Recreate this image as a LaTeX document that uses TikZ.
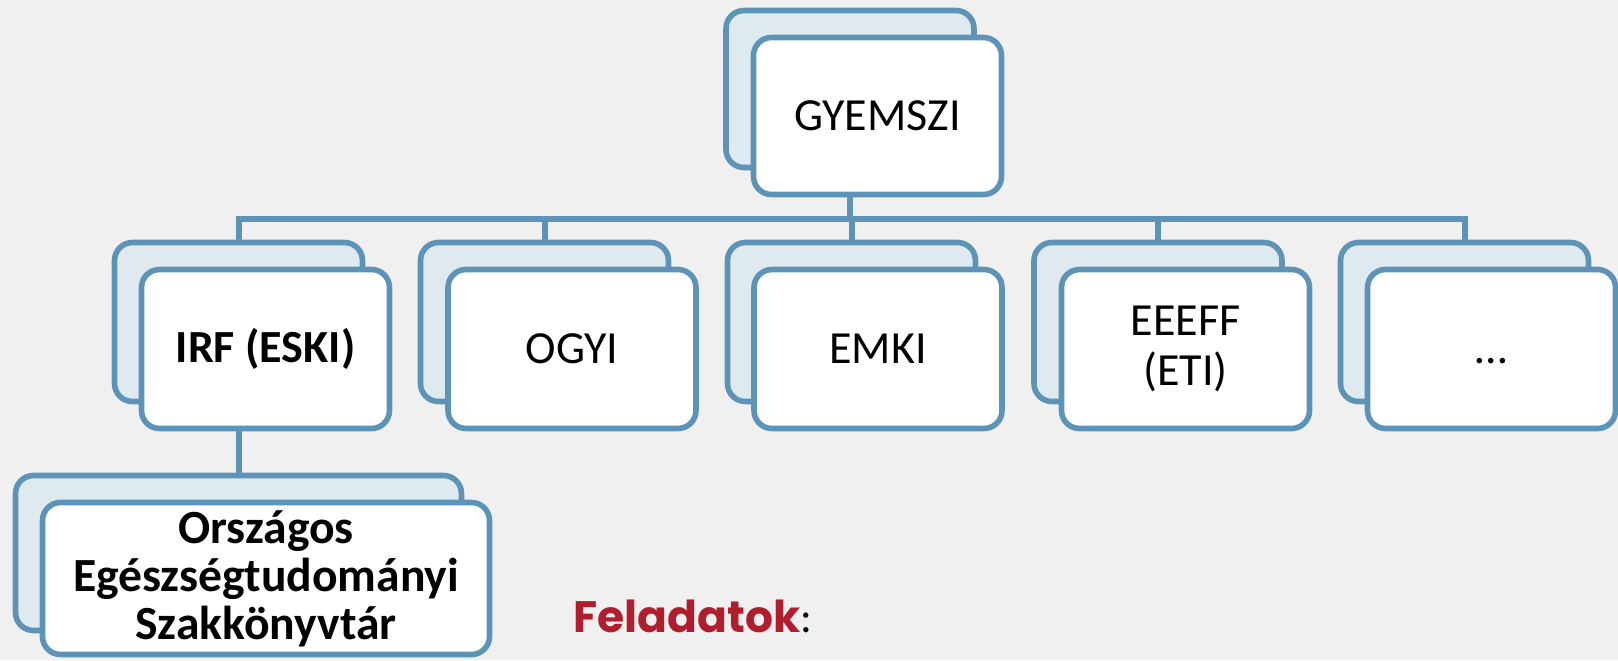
\documentclass[tikz,border=0pt]{standalone}
\usepackage{fontspec}
\setmainfont{Carlito}
\newfontfamily\featfont{Poppins}
\definecolor{bord}{HTML}{5E93B8}
\definecolor{backfill}{HTML}{DFE9F0}
\definecolor{bgc}{HTML}{F0F0F0}
\definecolor{featred}{HTML}{B01E2E}
\tikzset{
  backbox/.style={draw=bord, fill=backfill, line width=2.8pt, rounded corners=9pt,
    minimum width=124pt, minimum height=79.5pt, inner sep=0pt},
  frontbox/.style={draw=bord, fill=white, line width=2.8pt, rounded corners=9pt,
    minimum width=124pt, minimum height=79.5pt, inner sep=0pt, align=center,
    font=\fontsize{23pt}{25pt}\selectfont},
  conn/.style={draw=bord, line width=3pt},
}
\begin{document}
\begin{tikzpicture}[x=0.5pt,y=-0.5pt]
\fill[bgc] (0,0) rectangle (1618,660);
\useasboundingbox (0,0) rectangle (1618,660);

% top
\node[backbox, minimum height=78.5pt] (gb) at (850,89) {};
\node[frontbox, minimum height=78.5pt] (gf) at (877.5,116) {GYEMSZI};

% second row
\node[backbox] (b1) at (238.5,322) {};
\node[frontbox] (f1) at (265.5,349) {\bfseries IRF (ESKI)};
\node[backbox] (b2) at (544.5,322) {};
\node[frontbox] (f2) at (572,349) {OGYI};
\node[backbox] (b3) at (851.5,322) {};
\node[frontbox] (f3) at (878,349) {EMKI};
\node[backbox] (b4) at (1158,322) {};
\node[frontbox] (f4) at (1185.5,349) {EEEFF\\(ETI)};
\node[backbox] (b5) at (1464.5,322) {};
\node[frontbox] (f5) at (1491.5,349) {\vphantom{I}…};

% third level
\node[backbox, minimum width=223pt, minimum height=77.5pt] (ob) at (238.5,553) {};
\node[frontbox, minimum width=223.5pt, minimum height=76pt,
  font=\fontsize{23.8pt}{24pt}\selectfont\bfseries] (of) at (266,578.5)
  {Országos\\Egészségtudományi\\Szakkönyvtár};

% connectors
\coordinate (bus) at (0,219);
\draw[conn] (gb.south |- gf.south) -- (gb.south |- bus);
\draw[conn, line cap=rect] (b1.north |- bus) -- (b5.north |- bus);
\foreach \i in {1,...,5} {
  \draw[conn] (b\i.north) -- (b\i.north |- bus);
}
\draw[conn] (ob.north |- f1.south) -- (ob.north);

% Feladatok
\node[anchor=base west, inner sep=0pt, font=\fontsize{22pt}{26pt}\selectfont] (feat) at (573,632)
  {{\featfont\bfseries\color{featred}Feladatok}:};
\end{tikzpicture}
\end{document}
